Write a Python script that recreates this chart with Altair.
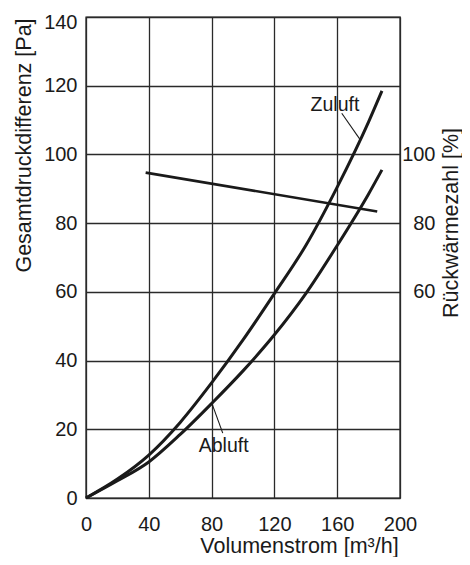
import altair as alt
import pandas as pd

# --- data ---
x_vals = [0, 20, 40, 60, 80, 100, 120, 140, 160, 180, 188.5]
zuluft = [0, 5.5, 12.5, 22, 33.5, 46, 59.5, 73.5, 90.5, 109.5, 118.5]
abluft = [0, 5, 10.5, 18.5, 27.5, 37, 47.5, 59.5, 73.5, 88.5, 95.5]
rw_x = [38, 185.5]
rw_y = [94.7, 83.4]
x_ticks = [0, 40, 80, 120, 160, 200]
y_ticks = [0, 20, 40, 60, 80, 100, 120, 140]
y2_ticks = [60, 80, 100]

label_text = ["Zuluft", "Abluft"]
label_x = [158.6, 87.7]
label_y = [114.4, 15.1]
leader_x = [162.9, 80.3]
leader_y = [112.0, 27.4]
leader_x2 = [174.5, 87.1]
leader_y2 = [104.4, 18.9]

FONT = "Liberation Sans"
INK = "#1a1a1a"

curves = pd.DataFrame(
    {
        "x": x_vals + x_vals,
        "y": zuluft + abluft,
        "series": ["Zuluft"] * len(x_vals) + ["Abluft"] * len(x_vals),
    }
)
rw = pd.DataFrame({"x": rw_x, "y": rw_y})
labels = pd.DataFrame({"text": label_text, "x": label_x, "y": label_y})
leaders = pd.DataFrame({"x": leader_x, "y": leader_y, "x2": leader_x2, "y2": leader_y2})

xs = alt.Scale(domain=[0, 200], nice=False, zero=False)
ys = alt.Scale(domain=[0, 140], nice=False, zero=False)

X = alt.X(
    "x:Q",
    scale=xs,
    axis=alt.Axis(
        values=x_ticks,
        title="Volumenstrom [m³/h]",
        grid=True,
        domain=False,
        ticks=False,
        tickSize=0,
        labelFlush=False,
        labelPadding=32,
        labelBaseline="alphabetic",
        labelFontSize=20,
        titleFontSize=21.5,
        titleFontWeight="normal",
        titleX=213,
        titleY=54,
        titleBaseline="alphabetic",
        titleAlign="center",
    ),
)
Y = alt.Y(
    "y:Q",
    scale=ys,
    axis=alt.Axis(
        values=y_ticks,
        title="Gesamtdruckdifferenz [Pa]",
        grid=True,
        domain=False,
        ticks=False,
        tickSize=0,
        labelFlush=False,
        labelOffset={"condition": {"test": "datum.value === 140", "value": 5}, "value": 0},
        labelPadding=9,
        labelFontSize=20,
        titleFontSize=21.5,
        titleFontWeight="normal",
        titleAngle=270,
        titleX=-62,
        titleY=128,
        titleBaseline="middle",
        titleAlign="center",
    ),
)

curve_layer = (
    alt.Chart(curves)
    .mark_line(color=INK, strokeWidth=3, interpolate="monotone")
    .encode(x=X, y=Y, detail="series:N")
)
leader_layer = (
    alt.Chart(leaders)
    .mark_rule(color=INK, strokeWidth=1.1)
    .encode(x=X, y=Y, x2="x2:Q", y2="y2:Q")
)
label_layer = (
    alt.Chart(labels)
    .mark_text(font=FONT, fontSize=19.5, color=INK, align="center", baseline="middle")
    .encode(x=X, y=Y, text="text:N")
)
main = alt.layer(curve_layer, leader_layer, label_layer)

Y2 = alt.Y(
    "y:Q",
    scale=ys,
    axis=alt.Axis(
        orient="right",
        values=y2_ticks,
        title="Rückwärmezahl [%]",
        grid=False,
        domain=False,
        ticks=False,
        tickSize=0,
        labelFlush=False,
        labelAlign="right",
        labelPadding=35,
        labelFontSize=20,
        titleFontSize=21.5,
        titleFontWeight="normal",
        titleAngle=270,
        titleX=51,
        titleY=205.5,
        titleBaseline="middle",
        titleAlign="center",
    ),
)
rw_layer = (
    alt.Chart(rw)
    .mark_line(color=INK, strokeWidth=2.6)
    .encode(x=X, y=Y2)
)

chart = (
    alt.layer(main, rw_layer)
    .resolve_scale(y="independent")
    .properties(
        width=314,
        height=481,
        autosize=alt.AutoSizeParams(type="none"),
        padding={"left": 78, "top": 9, "right": 62, "bottom": 59},
        background="white",
    )
    .configure_view(stroke=INK, strokeWidth=1.4)
    .configure_axis(
        labelFont=FONT,
        titleFont=FONT,
        labelColor=INK,
        titleColor=INK,
        gridColor="#2a2a2a",
        gridWidth=1.3,
        gridOpacity=1,
    )
)

chart.save("out.html", embed_options={"renderer": "svg", "actions": False})
